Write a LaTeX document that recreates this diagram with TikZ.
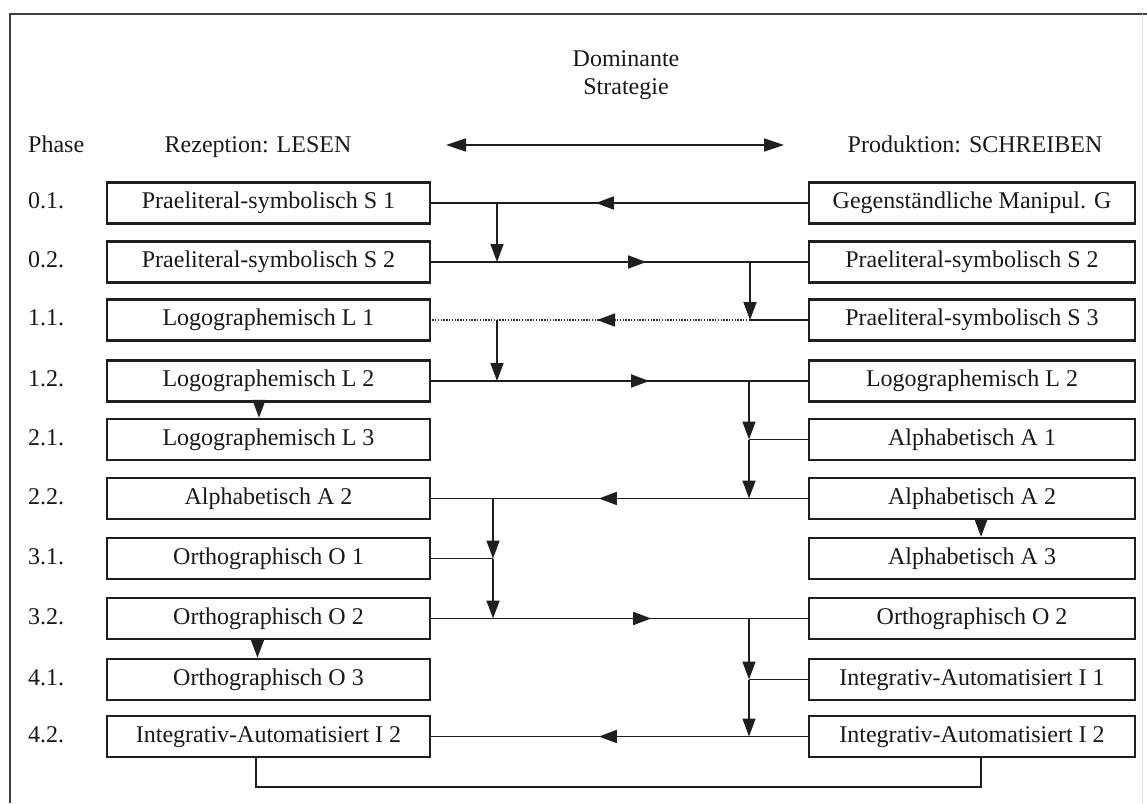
\documentclass[tikz,border=0pt]{standalone}
\usepackage{fontspec}
\setmainfont{Liberation Serif}
\usetikzlibrary{arrows.meta,decorations.markings}
\newcommand\dfont{\fontsize{24}{28}\selectfont}
\begin{document}
\begin{tikzpicture}[x=1pt,y=-1pt,
  box/.style={draw=black!88, line width=2.4pt, minimum height=41pt, inner sep=0pt,
              text height=16pt, text depth=5pt, font=\dfont, text=black!90},
  lbox/.style={box, minimum width=323pt},
  rbox/.style={box, minimum width=326pt},
  lab/.style={anchor=west, inner sep=0pt, text height=16pt, text depth=5pt, font=\dfont, text=black!90},
  hdr/.style={inner sep=0pt, font=\dfont, text=black!90},
  conn/.style={draw=black!88, line width=1.6pt},
  dotline/.style={draw=black!80, line width=2.4pt, dash pattern=on 1.4pt off 1.4pt},
  tip/.style={-{Triangle[length=18pt,width=13pt]}},
  mid/.style={postaction={decorate}, decoration={markings,
      mark=at position #1 with {\arrow{Triangle[length=18pt,width=13pt]}}}},
]
\useasboundingbox (0,0) rectangle (1147,803);
\fill[white] (0,0) rectangle (1147,803);

% frame
\draw[line width=1.6pt, black!75] (10,803) -- (10,14) -- (1147,14);
\draw[line width=1pt, black!12] (1142,14) -- (1142,803);

% headers
\node[hdr, anchor=base] (dom1) at (626,66) {Dominante};
\node[hdr, anchor=base] (dom2) at (626,94) {Strategie};
\node[hdr, anchor=base west] (phase) at (28,152) {Phase};
\node[hdr, anchor=base] (lesen) at (258,152) {Rezeption: LESEN};
\node[hdr, anchor=base] (schreiben) at (975,152) {Produktion: SCHREIBEN};
\coordinate (ta) at (446,145);
\coordinate (tb) at (784,145);
\draw[conn, {Triangle[length=20pt,width=13pt]}-{Triangle[length=20pt,width=13pt]}] (ta) -- (tb);

% phase labels
\node[lab] (p1) at (28,203) {0.1.};
\node[lab] (p2) at (28,262) {0.2.};
\node[lab] (p3) at (28,320) {1.1.};
\node[lab] (p4) at (28,381) {1.2.};
\node[lab] (p5) at (28,439.5) {2.1.};
\node[lab] (p6) at (28,498.5) {2.2.};
\node[lab] (p7) at (28,558.5) {3.1.};
\node[lab] (p8) at (28,618.5) {3.2.};
\node[lab] (p9) at (28,679.5) {4.1.};
\node[lab] (p10) at (28,736.5) {4.2.};

% left boxes
\node[lbox] (L1) at (268.5,203) {Praeliteral-symbolisch S 1};
\node[lbox] (L2) at (268.5,262) {Praeliteral-symbolisch S 2};
\node[lbox] (L3) at (268.5,320) {Logographemisch L 1};
\node[lbox] (L4) at (268.5,381) {Logographemisch L 2};
\node[lbox] (L5) at (268.5,439.5) {Logographemisch L 3};
\node[lbox] (L6) at (268.5,498.5) {Alphabetisch A 2};
\node[lbox] (L7) at (268.5,558.5) {Orthographisch O 1};
\node[lbox] (L8) at (268.5,618.5) {Orthographisch O 2};
\node[lbox] (L9) at (268.5,679.5) {Orthographisch O 3};
\node[lbox] (L10) at (268.5,736.5) {Integrativ-Automatisiert I 2};

% right boxes
\node[rbox] (R1) at (972,203) {Gegenständliche Manipul. G};
\node[rbox] (R2) at (972,262) {Praeliteral-symbolisch S 2};
\node[rbox] (R3) at (972,320) {Praeliteral-symbolisch S 3};
\node[rbox] (R4) at (972,381) {Logographemisch L 2};
\node[rbox] (R5) at (972,439.5) {Alphabetisch A 1};
\node[rbox] (R6) at (972,498.5) {Alphabetisch A 2};
\node[rbox] (R7) at (972,558.5) {Alphabetisch A 3};
\node[rbox] (R8) at (972,618.5) {Orthographisch O 2};
\node[rbox] (R9) at (972,679.5) {Integrativ-Automatisiert I 1};
\node[rbox] (R10) at (972,736.5) {Integrativ-Automatisiert I 2};

% junction coordinates
\coordinate (g1) at (497,203);   \coordinate (g2) at (497,262);
\coordinate (j2) at (750,262);   \coordinate (j3) at (750,320);
\coordinate (h3) at (497,320);   \coordinate (h4) at (497,381);
\coordinate (d4) at (749,381);   \coordinate (d5) at (749,439.5); \coordinate (d6) at (749,498.5);
\coordinate (e6) at (493,498.5); \coordinate (e7) at (493,558.5); \coordinate (e8) at (493,618.5);
\coordinate (f8) at (749,618.5); \coordinate (f9) at (749,679.5); \coordinate (f10) at (749,736.5);

% row 0.1 / 0.2
\draw[conn, mid=212pt] (R1.west) -- (L1.east);
\draw[conn, tip] (g1) -- (g2);
\draw[conn, mid=215pt] (L2.east) -- (R2.west);
\draw[conn, tip] (j2) -- (j3);
% row 1.1
\draw[conn] (R3.west) -- (j3);
\draw[dotline] (j3) -- (L3.east);
\draw[conn, draw=none, mid=153pt] (j3) -- (L3.east);
\draw[conn, tip] (h3) -- (h4);
% row 1.2
\draw[conn, mid=218pt] (L4.east) -- (R4.west);
\draw[conn, tip] (d4) -- (d5);
\draw[conn, tip] (d5) -- (d6);
\draw[conn] (R5.west) -- (d5);
\draw[conn, tip] ([xshift=-9.5pt]L4.south) -- ([xshift=-9.5pt]L5.north);
% row 2.2
\draw[conn, mid=209pt] (R6.west) -- (L6.east);
\draw[conn, tip] (e6) -- (e7);
\draw[conn, tip] (e7) -- (e8);
\draw[conn] (L7.east) -- (e7);
\draw[conn, tip] ([xshift=9pt]R6.south) -- ([xshift=9pt]R7.north);
% row 3.2
\draw[conn, mid=220pt] (L8.east) -- (R8.west);
\draw[conn, tip] (f8) -- (f9);
\draw[conn, tip] (f9) -- (f10);
\draw[conn] (R9.west) -- (f9);
\draw[conn, tip] ([xshift=-11pt]L8.south) -- ([xshift=-11pt]L9.north);
% row 4.2
\draw[conn, mid=209pt] (R10.west) -- (L10.east);
\draw[conn] ([xshift=-12.5pt]L10.south) -- ++(0,29) -| ([xshift=9pt]R10.south);
\end{tikzpicture}
\end{document}
